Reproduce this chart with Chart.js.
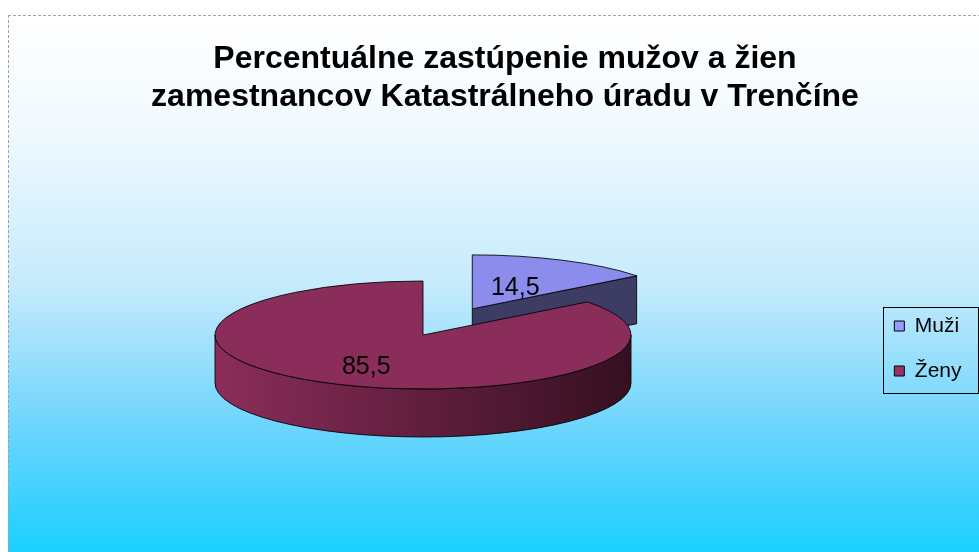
<!DOCTYPE html>
<html>
<head>
<meta charset="utf-8">
<script src="https://cdn.jsdelivr.net/npm/chart.js@4.4.0/dist/chart.umd.min.js"></script>
<style>
    html, body { margin: 0; padding: 0; background: #fff; }
    #wrap { width: 979px; height: 552px; position: relative; }
</style>
</head>
<body>
<div id="wrap"><canvas id="chart"></canvas></div>
<script>
// Data
const labels = ['Muži', 'Ženy'];
const values = [14.5, 85.5];
const titleLines = ['Percentuálne zastúpenie mužov a žien', 'zamestnancov Katastrálneho úradu v Trenčíne'];

// Colours
const topColors = ['#8c8cec', '#8b2d5a'];
const legendColors = ['#9999ff', '#993366'];
const cutColors = ['#3c3c64', '#4a1a30'];
const wallColors = [['#8a8ae8', '#3c3c64'], ['#8b2d5a', '#351020']];

// 3D pie layout (screen space)
const PIE = { cx: 423, cy: 335, rx: 208, ry: 54, depth: 48, explode: [112, 0], labelR: [0.47, 0.62] };
const K = PIE.ry / PIE.rx;
const FONT = "'Liberation Sans', Arial, sans-serif";

function fmt(v) {
    return String(v).replace('.', ',');
}

function sliceCenter(arc, i) {
    const mid = (arc.startAngle + arc.endAngle) / 2;
    return [PIE.cx + Math.cos(mid) * PIE.explode[i], PIE.cy + Math.sin(mid) * PIE.explode[i] * K];
}

// visible front part of the outer wall: angles where sin > 0
function frontRanges(s, e) {
    const out = [];
    for (let m = -2 * Math.PI; m <= 2 * Math.PI; m += 2 * Math.PI) {
        const a1 = Math.max(s, m), a2 = Math.min(e, m + Math.PI);
        if (a2 > a1 + 0.001) out.push([a1, a2]);
    }
    return out;
}

function drawSides(ctx, arc, i) {
    const [sx, sy] = sliceCenter(arc, i);
    const R = arc.outerRadius;
    const d = PIE.depth;
    ctx.save();
    ctx.lineWidth = 1;
    ctx.strokeStyle = 'rgba(0,0,0,0.85)';
    ctx.lineJoin = 'round';

    // radial cut faces
    [[arc.startAngle, -1], [arc.endAngle, 1]].forEach(([a, dir]) => {
        const visible = dir > 0 ? Math.cos(a) > 0.02 : Math.cos(a) < -0.02;
        if (!visible) return;
        const px = sx + R * Math.cos(a), py = sy + R * K * Math.sin(a);
        ctx.beginPath();
        ctx.moveTo(sx, sy);
        ctx.lineTo(px, py);
        ctx.lineTo(px, py + d);
        ctx.lineTo(sx, sy + d);
        ctx.closePath();
        ctx.fillStyle = cutColors[i];
        ctx.fill();
        ctx.stroke();
    });

    // outer wall
    frontRanges(arc.startAngle, arc.endAngle).forEach(([a1, a2]) => {
        const grad = ctx.createLinearGradient(sx - R, 0, sx + R, 0);
        grad.addColorStop(0, wallColors[i][0]);
        grad.addColorStop(1, wallColors[i][1]);
        ctx.beginPath();
        ctx.ellipse(sx, sy, R, R * K, 0, a1, a2, false);
        ctx.lineTo(sx + R * Math.cos(a2), sy + R * K * Math.sin(a2) + d);
        ctx.ellipse(sx, sy + d, R, R * K, 0, a2, a1, true);
        ctx.closePath();
        ctx.fillStyle = grad;
        ctx.fill();
        ctx.stroke();
    });
    ctx.restore();
}

const pie3d = {
    id: 'pie3d',
    beforeDraw(chart) {
        const { ctx, width, height } = chart;
        ctx.save();
        ctx.fillStyle = '#fff';
        ctx.fillRect(0, 0, width, height);
        const grad = ctx.createLinearGradient(0, 15, 0, height);
        grad.addColorStop(0, '#ffffff');
        grad.addColorStop(0.2, '#f2faff');
        grad.addColorStop(0.5, '#c6ebfc');
        grad.addColorStop(0.75, '#72d6fd');
        grad.addColorStop(1, '#1acfff');
        ctx.fillStyle = grad;
        ctx.fillRect(8, 15, width - 8, height - 15);
        ctx.strokeStyle = '#a0a0a0';
        ctx.lineWidth = 1;
        ctx.setLineDash([3, 2]);
        ctx.beginPath();
        ctx.moveTo(8, 15.5);
        ctx.lineTo(width, 15.5);
        ctx.moveTo(8.5, 15);
        ctx.lineTo(8.5, height);
        ctx.stroke();
        ctx.restore();
    },
    beforeDatasetDraw(chart, args) {
        const ctx = chart.ctx;
        const arcs = args.meta.data;
        // back to front
        const order = arcs.map((a, i) => i).sort((a, b) => sliceCenter(arcs[a], a)[1] - sliceCenter(arcs[b], b)[1]);
        order.forEach(i => {
            const arc = arcs[i];
            const [sx, sy] = sliceCenter(arc, i);
            drawSides(ctx, arc, i);

            ctx.save();
            ctx.translate(sx, sy);
            ctx.scale(1, K);
            ctx.translate(-arc.x, -arc.y);
            arc.draw(ctx);
            ctx.restore();

            // outline of the top face
            const R = arc.outerRadius;
            ctx.save();
            ctx.strokeStyle = 'rgba(0,0,0,0.85)';
            ctx.lineWidth = 1;
            ctx.beginPath();
            ctx.moveTo(sx, sy);
            ctx.lineTo(sx + R * Math.cos(arc.startAngle), sy + R * K * Math.sin(arc.startAngle));
            ctx.ellipse(sx, sy, R, R * K, 0, arc.startAngle, arc.endAngle, false);
            ctx.closePath();
            ctx.stroke();
            ctx.restore();
        });
        return false;
    },
    afterDatasetsDraw(chart) {
        const ctx = chart.ctx;
        const arcs = chart.getDatasetMeta(0).data;
        ctx.save();
        ctx.font = '25px ' + FONT;
        ctx.fillStyle = '#000';
        ctx.textAlign = 'center';
        ctx.textBaseline = 'middle';
        arcs.forEach((arc, i) => {
            const [sx, sy] = sliceCenter(arc, i);
            const mid = (arc.startAngle + arc.endAngle) / 2;
            const r = arc.outerRadius * PIE.labelR[i];
            ctx.fillText(fmt(values[i]), sx + r * Math.cos(mid), sy + r * K * Math.sin(mid) + 2);
        });
        ctx.restore();
    },
    afterDraw(chart) {
        // frame round the legend
        const hb = chart.legend.legendHitBoxes;
        if (!hb || !hb.length) return;
        const ctx = chart.ctx;
        const last = hb[hb.length - 1];
        const x0 = Math.round(hb[0].left - 11) + 0.5;
        const y0 = Math.round(hb[0].top - 9) + 0.5;
        const x1 = Math.round(hb[0].left + 84) + 0.5;
        const y1 = Math.round(last.top + last.height + 11) + 0.5;
        ctx.save();
        ctx.strokeStyle = '#000';
        ctx.lineWidth = 1;
        ctx.strokeRect(x0, y0, x1 - x0, y1 - y0);
        ctx.restore();
    }
};

new Chart(document.getElementById('chart'), {
    type: 'pie',
    data: {
        labels: labels,
        datasets: [{
            data: values,
            backgroundColor: topColors,
            borderWidth: 0,
            radius: PIE.rx
        }]
    },
    options: {
        responsive: true,
        maintainAspectRatio: false,
        animation: false,
        events: [],
        layout: { padding: { left: 38.5, right: 7.5, top: 0, bottom: 0 } },
        plugins: {
            title: {
                display: true,
                text: titleLines,
                color: '#000',
                font: { family: FONT, size: 32, weight: 'bold', lineHeight: 1.1875 },
                padding: { top: 40, bottom: 29 }
            },
            legend: {
                display: true,
                position: 'right',
                align: 'center',
                fullSize: false,
                labels: {
                    color: '#000',
                    font: { family: FONT, size: 21 },
                    boxWidth: 10,
                    boxHeight: 10,
                    padding: 24,
                    generateLabels(chart) {
                        return labels.map((l, i) => ({
                            text: l,
                            fillStyle: legendColors[i],
                            strokeStyle: '#000',
                            lineWidth: 1,
                            hidden: false,
                            index: i
                        }));
                    }
                }
            },
            tooltip: { enabled: false }
        }
    },
    plugins: [pie3d]
});
</script>
</body>
</html>
